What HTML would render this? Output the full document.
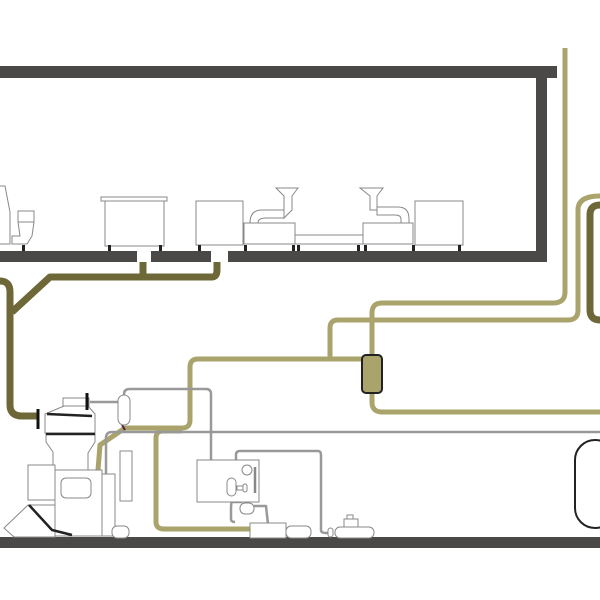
<!DOCTYPE html>
<html><head><style>html,body{margin:0;padding:0;background:#fff}svg{display:block}</style></head>
<body>
<svg width="600" height="600" viewBox="0 0 600 600" xmlns="http://www.w3.org/2000/svg">
<g fill="#4a4948">
<rect x="0" y="66" width="557" height="12"/>
<rect x="536" y="66" width="11" height="196"/>
<rect x="0" y="251" width="137" height="11"/>
<rect x="151" y="251" width="60" height="11"/>
<rect x="228" y="251" width="319" height="11"/>
<rect x="0" y="537" width="600" height="11"/>
</g>
<!-- upper equipment -->
<g fill="#fff" stroke="#888" stroke-width="1">
<path d="M0,186 L5,186 L10,212 L10,244 L0,244"/>
<rect x="18" y="211" width="16" height="11"/>
<path d="M18,222 L34,222 L32,236 L27,244 L12,244 L12,236 L20,236 Z"/>
<rect x="101" y="197" width="66" height="4"/>
<rect x="105" y="201" width="59" height="45"/>
<rect x="196" y="201" width="47" height="44"/>
<path d="M276,188 L298,188 L292,196 L292,210 L284,218 L284,196 Z"/>
<path d="M250,223 Q250,210 262,210 L284,210 L284,218 L266,218 Q258,218 258,223 Z"/>
<rect x="244" y="223" width="51" height="21"/>
<rect x="295" y="235" width="68" height="9"/>
<path d="M360,188 L383,188 L377,196 L377,210 L370,210 L370,196 Z"/>
<path d="M377,207 L398,207 Q409,207 409,219 L409,223 L401,223 L401,219 Q401,215 395,215 L377,215 Z"/>
<rect x="363" y="223" width="50" height="21"/>
<rect x="415" y="201" width="48" height="44"/>
</g>
<g fill="#222">
<rect x="22" y="245" width="3" height="6"/><rect x="108" y="245" width="3" height="6"/><rect x="159" y="245" width="3" height="6"/>
<rect x="198" y="245" width="3" height="6"/><rect x="244" y="245" width="3" height="6"/><rect x="292" y="245" width="3" height="6"/>
<rect x="297" y="245" width="3" height="6"/><rect x="357" y="245" width="3" height="6"/><rect x="364" y="245" width="3" height="6"/>
<rect x="412" y="245" width="3" height="6"/><rect x="458" y="245" width="3" height="6"/>
</g>
<!-- olive pipes -->
<g fill="none" stroke="#6e6838" stroke-width="7" stroke-linejoin="round">
<path d="M0,281 Q10,281 10,292 L10,405 Q10,416 22,416 L38,416"/>
<path d="M12,312 L50,277 L212,277 Q217,277 217,270 L217,262"/>
<path d="M143,262 L143,277"/>
<path d="M600,205 Q590,205 590,215 L590,310 Q590,320 600,320"/>
</g>
<!-- khaki pipes -->
<g fill="none" stroke="#aaa46c" stroke-width="5" stroke-linejoin="round">
<path d="M565,48 L565,292 Q565,303 553,303 L382,303 Q372,303 372,313 L372,402 Q372,412 382,412 L600,412"/>
<path d="M600,196 Q578,196 578,210 L578,310 Q578,320 568,320 L338,320 Q330,320 330,328 L330,359"/>
<path d="M372,359 L198,359 Q190,359 190,367 L190,420 Q190,428 182,428 L125,428 L100,445 L98,470"/>
<path d="M182,431 L163,431 Q156,431 156,438 L156,522 Q156,529 164,529 L252,529"/>
</g>
<rect x="362" y="355" width="20" height="38" rx="4" fill="#aaa46c" stroke="#222" stroke-width="2"/>
<!-- gray pipes -->
<g fill="none" stroke="#999" stroke-width="2.5" stroke-linejoin="round">
<path d="M600,432 L112,432 Q106,432 106,438 L106,474"/>
<path d="M90,402 L118,402"/>
<path d="M124,395 L124,394 Q124,389 130,389 L206,389 Q211,389 211,394 L211,460"/>
<path d="M236,480 L236,455 Q236,451 240,451 L318,451 Q321,451 321,455 L321,530 Q321,533 326,533 L330,533"/>
<path d="M236,467 Q236,470 244,470 L250,470 L250,489"/>
<path d="M242,502 L232,502 Q231,502 231,510 L231,519 Q231,522 235,522"/>
<path d="M254,506 L266,506 L268,524"/>
</g>
<path d="M122,425 L125,430" stroke="#552244" stroke-width="2"/>
<!-- left machine -->
<g fill="#fff" stroke="#888" stroke-width="1">
<rect x="63" y="398" width="26" height="8"/>
<path d="M64,406 L88,406 L95,414 L95,433 L45,433 L45,414 Z"/>
<path d="M46,433 L95,433 L95,442 L88,453 L88,470 L53,470 L53,452 L46,442 Z"/>
<rect x="28" y="465" width="27" height="35"/>
<rect x="55" y="470" width="47" height="66"/>
<rect x="61" y="478" width="30" height="20" rx="5"/>
<rect x="102" y="474" width="13" height="62"/>
<rect x="120" y="451" width="12" height="50"/>
<rect x="112" y="526" width="17" height="12" rx="5"/>
<path d="M28,505 L4,528 L14,537 L55,537 L55,505 Z"/>
<rect x="118" y="395" width="12" height="30" rx="6"/>
<rect x="197" y="460" width="62" height="42"/>
<circle cx="247" cy="470" r="5"/>
<rect x="227" y="478" width="9" height="18" rx="4.5"/>
<rect x="237" y="486" width="10" height="4"/>
<rect x="243" y="484" width="4" height="8" rx="2"/>
<rect x="240" y="503" width="14" height="11" rx="5"/>
<rect x="250" y="523" width="36" height="15"/>
<rect x="286" y="526" width="25" height="12" rx="5"/>
<rect x="328" y="528" width="5" height="9" rx="2.5"/>
<rect x="335" y="527" width="39" height="11" rx="5"/>
<rect x="344" y="519" width="14" height="8"/>
<rect x="347" y="515" width="6" height="4"/>
</g>
<path d="M255,467 L255,493" stroke="#888" stroke-width="2.5"/>
<g stroke="#222" stroke-width="2.5" fill="none">
<path d="M47,414 L92,416"/>
<path d="M46,434 L95,434"/>
<path d="M29,505 L52,530 L72,535"/>
</g>
<g stroke="#111" stroke-width="3">
<path d="M38,409 L38,429"/>
<path d="M87,393 L87,410"/>
</g>
<rect x="575" y="440" width="40" height="88" rx="20" fill="#fff" stroke="#222" stroke-width="2"/>
</svg>
</body></html>
